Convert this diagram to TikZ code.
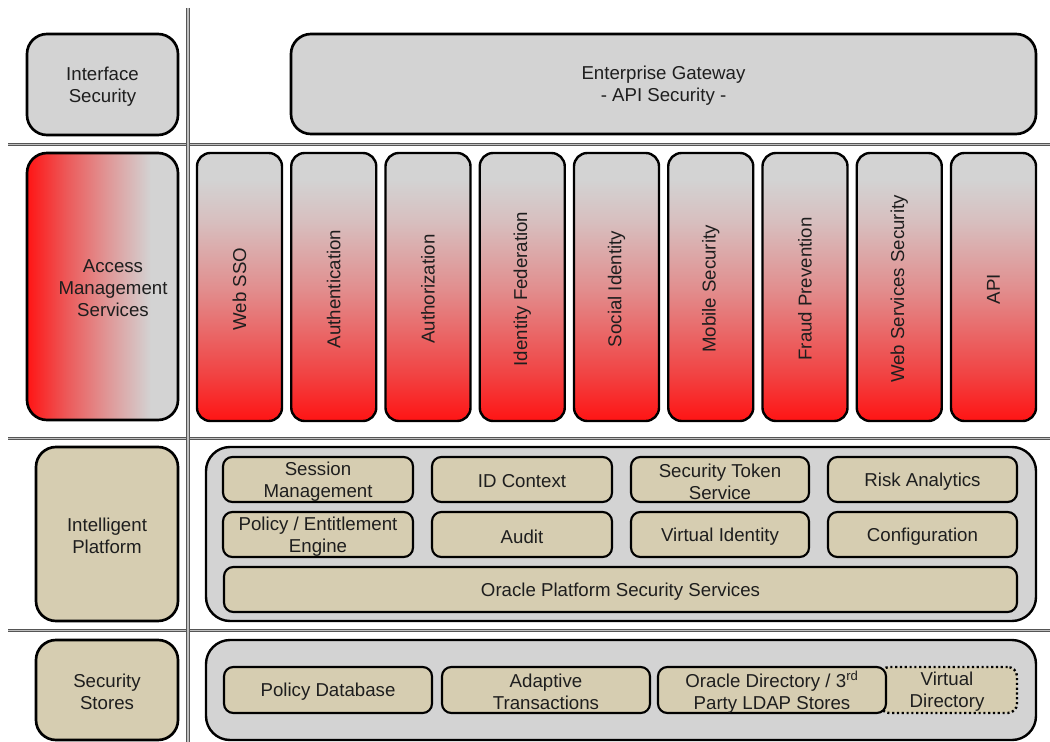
\documentclass[tikz,border=0pt]{standalone}
\usepackage{fontspec}
\setmainfont{Liberation Sans}
\usepackage{graphicx}
\definecolor{panelgray}{HTML}{D3D3D3}
\definecolor{tan}{HTML}{D6CDB1}
\definecolor{inkgray}{HTML}{1E1E1E}
\definecolor{rulegray}{HTML}{555555}
% red fading into grey, left to right (path edges map to 25bp and 75bp)
\pgfdeclarehorizontalshading{amsfade}{100bp}{color(0bp)=(red!92!white); color(25bp)=(red!92!white);
  color(38bp)=(red!58!panelgray); color(52bp)=(red!28!panelgray); color(66bp)=(panelgray); color(100bp)=(panelgray)}
% grey at the top, red at the bottom
\pgfdeclareverticalshading{colfade}{100bp}{color(0bp)=(red!92!white); color(25bp)=(red!92!white);
  color(33bp)=(red!70!panelgray); color(50bp)=(red!32!panelgray); color(62bp)=(red!10!panelgray); color(70bp)=(panelgray); color(100bp)=(panelgray)}
% box from (x1,y1) to (x2,y2) in pixel units, with its label set slightly low
\newcommand\blk[7]{%
  \node[#2, minimum width={(#5-#3)*0.75pt}, minimum height={(#6-#4)*0.75pt}] (#1) at ({(#3+#5)/2},{(#4+#6)/2}) {};
  \node (#1-t) at ([yshift=-1.5pt]#1.center) {#7};}
\begin{document}
\begin{tikzpicture}[x=0.75pt, y=-0.75pt,
  every node/.style={inner sep=0pt, outer sep=0pt, font=\fontsize{14}{16.5}\selectfont, text=inkgray, align=center},
  bigbox/.style={draw=black, line width=2pt, rounded corners=15pt},
  graybig/.style={bigbox, fill=panelgray},
  tanbig/.style={bigbox, fill=tan},
  holder/.style={draw=black, line width=1.8pt, fill=panelgray, rounded corners=18pt},
  item/.style={draw=black, line width=1.6pt, fill=tan, rounded corners=7pt},
  column/.style={draw=black, line width=1.8pt, rounded corners=10pt, shading=colfade},
  divider/.style={draw=rulegray, line width=0.6pt, double=white!75!black, double distance=1.3pt}]
\useasboundingbox (0,0) rectangle (1050,742);

% grid of divider rules
\coordinate (vtop) at (188,8);
\coordinate (vbot) at (188,742);
\coordinate (h1l) at (8,144.5);  \coordinate (h1r) at (1050,144.5);
\coordinate (h2l) at (8,438.5);  \coordinate (h2r) at (1050,438.5);
\coordinate (h3l) at (8,630.5);  \coordinate (h3r) at (1050,630.5);
\draw[divider] (h1l) -- (h1r);
\draw[divider] (h2l) -- (h2r);
\draw[divider] (h3l) -- (h3r);
\draw[divider] (vtop) -- (vbot);

% interface layer
\blk{ifsec}{graybig}{27}{34}{178}{135}{Interface\\Security}
\blk{gateway}{graybig}{291}{34}{1036}{134}{Enterprise Gateway\\- API Security -}

% access management layer
\node[bigbox, shading=amsfade, minimum width={151*0.75pt}, minimum height={267*0.75pt}] (ams) at (102.5,286.5) {};
\node (ams-t) at (113,288) {Access\\Management\\Services};
\foreach \i/\t in {0/Web SSO, 1/Authentication, 2/Authorization, 3/Identity Federation,
  4/Social Identity, 5/Mobile Security, 6/Fraud Prevention, 7/Web Services Security, 8/API}{
  \pgfmathsetmacro\xa{197+94.25*\i}
  \pgfmathsetmacro\xm{\xa+42.5}
  \node[column, minimum width={85*0.75pt}, minimum height={268*0.75pt}] (col\i) at (\xm,287) {};
  \node[rotate=90] (col\i-t) at ([yshift=-1.5pt]col\i.center) {\t};
}

% intelligent platform layer
\blk{iplat}{tanbig}{36}{447}{178}{621}{Intelligent\\Platform}
\node[holder, minimum width={830*0.75pt}, minimum height={174*0.75pt}] (ipbox) at (621,534) {};
\blk{sess}{item}{223}{457}{413}{502}{Session\\Management}
\blk{idctx}{item}{432}{457}{612}{502}{ID Context}
\blk{stoken}{item}{631}{457}{809}{502}{Security Token\\Service}
\blk{risk}{item}{828}{457}{1017}{502}{Risk Analytics}
\blk{policy}{item}{223}{512}{413}{557}{Policy / Entitlement\\Engine}
\blk{audit}{item}{432}{512}{612}{557}{Audit}
\blk{vident}{item}{631}{512}{809}{557}{Virtual Identity}
\blk{config}{item}{828}{512}{1017}{557}{Configuration}
\blk{opss}{item}{224}{567}{1017}{612}{Oracle Platform Security Services}

% security stores layer
\blk{stores}{tanbig}{36}{640}{178}{740}{Security\\Stores}
\node[holder, minimum width={830*0.75pt}, minimum height={100*0.75pt}] (stbox) at (621,690) {};
\blk{poldb}{item}{224}{667}{432}{713}{Policy Database}
\blk{adapt}{item}{442}{667}{650}{713}{Adaptive\\Transactions}
\node[item, dotted, line width=1.8pt, minimum width={137*0.75pt}, minimum height={46*0.75pt}] (vdir) at (948.5,690) {};
\node (vdir-t) at ([yshift=-1.5pt]947,690) {Virtual\\Directory};
\blk{oid}{item}{658}{667}{886}{713}{Oracle Directory / 3\textsuperscript{rd}\\Party LDAP Stores}
\end{tikzpicture}
\end{document}
